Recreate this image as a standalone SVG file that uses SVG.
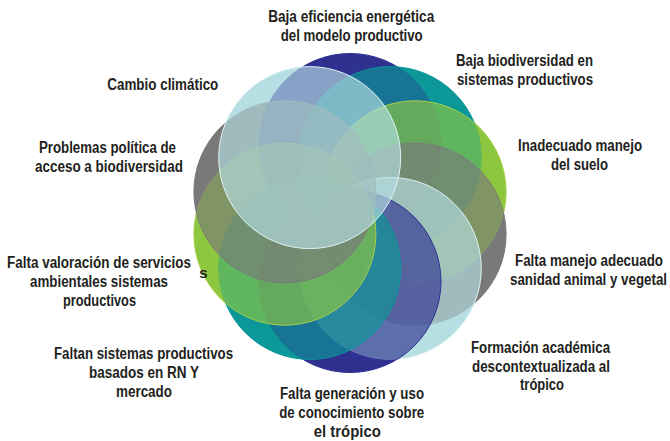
<svg xmlns="http://www.w3.org/2000/svg" width="670" height="441" viewBox="0 0 670 441">
<style>
.t{font-family:"Liberation Sans Narrow","Liberation Sans",Arial,sans-serif;font-weight:bold;font-size:16px;fill:#231f20;text-anchor:middle}
.tint{fill-opacity:0.65;stroke-width:1}
.N{fill:#2e3191;stroke:#2e3191}
.T{fill:#0c9898;stroke:#0c9898}
.Y{fill:#8dc63f;stroke:#a5d24a}
.G{fill:#7a7a7a;stroke:#7a7a7a}
.L{fill:#b5dee3;stroke:#e2f2f4}
.base circle{stroke:none}
</style>
<rect width="670" height="441" fill="#ffffff"/>
<g id="base" class="base">
<circle class="L" cx="309.7" cy="157.6" r="91"/>
<circle class="G" cx="284.9" cy="191.8" r="91"/>
<circle class="Y" cx="284.9" cy="234.2" r="91"/>
<circle class="T" cx="309.7" cy="268.4" r="91"/>
<circle class="N" cx="350" cy="281.5" r="91"/>
<circle class="L" cx="390.3" cy="268.4" r="91"/>
<circle class="G" cx="415.1" cy="234.2" r="91"/>
<circle class="Y" cx="415.1" cy="191.8" r="91"/>
<circle class="T" cx="390.3" cy="157.6" r="91"/>
<circle class="N" cx="350" cy="144.5" r="91"/>
</g>
<g id="node-baja-eficiencia">
<circle class="tint N" cx="350" cy="144.5" r="91"/>
<text class="t" x="351.2" y="22" textLength="166" lengthAdjust="spacingAndGlyphs">Baja eficiencia energética</text>
<text class="t" x="351.7" y="41" textLength="142" lengthAdjust="spacingAndGlyphs">del modelo productivo</text>
</g>
<g id="node-baja-biodiversidad">
<circle class="tint T" cx="390.3" cy="157.6" r="91"/>
<text class="t" x="524.5" y="66" textLength="137" lengthAdjust="spacingAndGlyphs">Baja biodiversidad en</text>
<text class="t" x="525" y="84.5" textLength="136" lengthAdjust="spacingAndGlyphs">sistemas productivos</text>
</g>
<g id="node-inadecuado-manejo">
<circle class="tint Y" cx="415.1" cy="191.8" r="91"/>
<text class="t" x="580" y="151" textLength="124" lengthAdjust="spacingAndGlyphs">Inadecuado manejo</text>
<text class="t" x="579.5" y="169.5" textLength="57" lengthAdjust="spacingAndGlyphs">del suelo</text>
</g>
<g id="node-falta-manejo-sanidad">
<circle class="tint G" cx="415.1" cy="234.2" r="91"/>
<text class="t" x="589" y="266" textLength="148" lengthAdjust="spacingAndGlyphs">Falta manejo adecuado</text>
<text class="t" x="588.5" y="284.5" textLength="157" lengthAdjust="spacingAndGlyphs">sanidad animal y vegetal</text>
</g>
<g id="node-formacion-academica">
<circle class="tint L" cx="390.3" cy="268.4" r="91"/>
<text class="t" x="540.5" y="353.3" textLength="139" lengthAdjust="spacingAndGlyphs">Formación académica</text>
<text class="t" x="541" y="372" textLength="138" lengthAdjust="spacingAndGlyphs">descontextualizada al</text>
<text class="t" x="542" y="390" textLength="44" lengthAdjust="spacingAndGlyphs">trópico</text>
</g>
<g id="node-falta-generacion">
<circle class="tint N" cx="350" cy="281.5" r="91"/>
<text class="t" x="352" y="399.3" textLength="144" lengthAdjust="spacingAndGlyphs">Falta generación y uso</text>
<text class="t" x="351.7" y="418.3" textLength="145" lengthAdjust="spacingAndGlyphs">de conocimiento sobre</text>
<text class="t" x="347.3" y="437.3" textLength="67" lengthAdjust="spacingAndGlyphs">el trópico</text>
</g>
<g id="node-faltan-sistemas">
<circle class="tint T" cx="309.7" cy="268.4" r="91"/>
<text class="t" x="143.5" y="359" textLength="179" lengthAdjust="spacingAndGlyphs">Faltan sistemas productivos</text>
<text class="t" x="144" y="378" textLength="110" lengthAdjust="spacingAndGlyphs">basados en RN Y</text>
<text class="t" x="144" y="397" textLength="56" lengthAdjust="spacingAndGlyphs">mercado</text>
</g>
<g id="node-falta-valoracion">
<circle class="tint Y" cx="284.9" cy="234.2" r="91"/>
<text class="t" x="99" y="268" textLength="184" lengthAdjust="spacingAndGlyphs">Falta valoración de servicios</text>
<text class="t" x="99" y="286.5" textLength="138" lengthAdjust="spacingAndGlyphs">ambientales sistemas</text>
<text class="t" x="99.5" y="305.5" textLength="73" lengthAdjust="spacingAndGlyphs">productivos</text>
</g>
<g id="node-problemas-politica">
<circle class="tint G" cx="284.9" cy="191.8" r="91"/>
<text class="t" x="107.5" y="153" textLength="137" lengthAdjust="spacingAndGlyphs">Problemas política de</text>
<text class="t" x="109" y="172" textLength="148" lengthAdjust="spacingAndGlyphs">acceso a biodiversidad</text>
</g>
<g id="node-cambio-climatico">
<circle class="tint L" cx="309.7" cy="157.6" r="91"/>
<text class="t" x="162.8" y="90" textLength="111" lengthAdjust="spacingAndGlyphs">Cambio climático</text>
</g>
<g id="connectors"></g>
<text x="203.5" y="277.5" style="font-family:'Liberation Sans',Arial,sans-serif;font-weight:bold;font-size:15px;fill:#231f20;text-anchor:middle">s</text>
</svg>
